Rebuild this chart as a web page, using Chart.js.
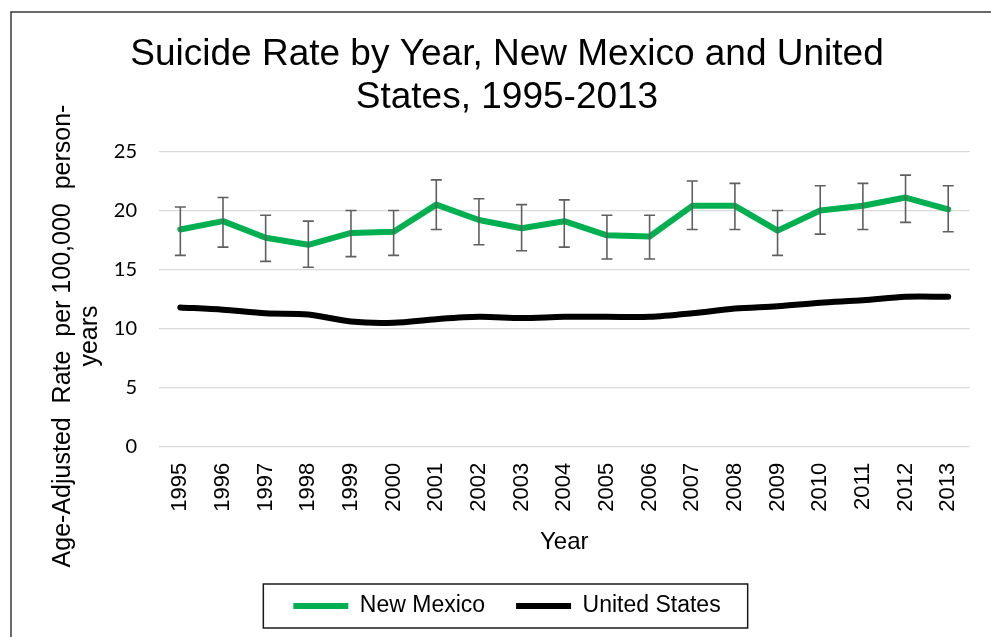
<!DOCTYPE html>
<html>
<head>
<meta charset="utf-8">
<script src="https://cdn.jsdelivr.net/npm/chart.js@4.4.1/dist/chart.umd.min.js"></script>
<style>
  html, body { margin: 0; padding: 0; background: #fff; }
  #wrap { width: 991px; height: 637px; }
</style>
</head>
<body>
<div id="wrap"><canvas id="chart" width="991" height="637"></canvas></div>
<script>
const years = ["1995", "1996", "1997", "1998", "1999", "2000", "2001", "2002", "2003", "2004",
  "2005", "2006", "2007", "2008", "2009", "2010", "2011", "2012", "2013"];
const nmRate = [18.4, 19.1, 17.7, 17.1, 18.1, 18.2, 20.5, 19.2, 18.5, 19.1, 17.9, 17.8, 20.4, 20.4, 18.3, 20.0, 20.4, 21.1, 20.1];
const nmLow = [16.2, 16.9, 15.7, 15.2, 16.1, 16.2, 18.4, 17.1, 16.6, 16.9, 15.9, 15.9, 18.4, 18.4, 16.2, 18.0, 18.4, 19.0, 18.2];
const nmHigh = [20.3, 21.1, 19.6, 19.1, 20.0, 20.0, 22.6, 21.0, 20.5, 20.9, 19.6, 19.6, 22.5, 22.3, 20.0, 22.1, 22.3, 23.0, 22.1];
const usRate = [11.8, 11.6, 11.3, 11.2, 10.6, 10.5, 10.8, 11.0, 10.9, 11.0, 11.0, 11.0, 11.3, 11.7, 11.9, 12.2, 12.4, 12.7, 12.7];
const yTicks = [0, 5, 10, 15, 20, 25];
const yTitleLines = ["Age-Adjusted  Rate  per 100,000  person-", "years"];

// outer frame of the chart object (only top and left edges are in view)
const framePlugin = {
  id: "frame",
  beforeDraw(chart) {
    const ctx = chart.ctx;
    ctx.save();
    ctx.fillStyle = "#fff";
    ctx.fillRect(0, 0, chart.width, chart.height);
    ctx.strokeStyle = "#3a3a3a";
    ctx.lineWidth = 1.5;
    ctx.strokeRect(11, 12, 1100, 800);
    ctx.restore();
  }
};

// 95% CI bars on the New Mexico series
const errorBars = {
  id: "errorBars",
  afterDatasetsDraw(chart) {
    const ctx = chart.ctx;
    const x = chart.scales.x;
    const y = chart.scales.y;
    ctx.save();
    ctx.strokeStyle = "#5f5f5f";
    ctx.lineWidth = 1.6;
    nmLow.forEach((lo, i) => {
      const px = x.getPixelForValue(i);
      const top = y.getPixelForValue(nmHigh[i]);
      const bot = y.getPixelForValue(lo);
      ctx.beginPath();
      ctx.moveTo(px, top);
      ctx.lineTo(px, bot);
      ctx.moveTo(px - 5.5, top);
      ctx.lineTo(px + 5.5, top);
      ctx.moveTo(px - 5.5, bot);
      ctx.lineTo(px + 5.5, bot);
      ctx.stroke();
    });
    ctx.restore();
  }
};

// y title is centred on the whole chart in Excel, so it is drawn by hand
const yTitle = {
  id: "yTitle",
  afterDraw(chart) {
    const ctx = chart.ctx;
    ctx.save();
    ctx.fillStyle = "#000";
    ctx.font = "25px 'Liberation Sans', Arial, sans-serif";
    ctx.textAlign = "center";
    ctx.textBaseline = "middle";
    ctx.translate(0, 336);
    ctx.rotate(-Math.PI / 2);
    ctx.fillText(yTitleLines[0], 0, 63);
    ctx.fillText(yTitleLines[1], 0, 90);
    ctx.restore();
  }
};

// box round the legend
const legendBox = {
  id: "legendBox",
  afterDraw(chart) {
    const boxes = chart.legend.legendHitBoxes;
    if (!boxes || !boxes.length) return;
    const left = Math.min(...boxes.map(b => b.left)) - 30;
    const right = Math.max(...boxes.map(b => b.left + b.width)) + 27;
    const mid = boxes[0].top + boxes[0].height / 2;
    const ctx = chart.ctx;
    ctx.save();
    ctx.strokeStyle = "#1a1a1a";
    ctx.lineWidth = 1.5;
    ctx.strokeRect(left, mid - 22, right - left, 44);
    ctx.restore();
  }
};

new Chart(document.getElementById("chart"), {
  type: "line",
  plugins: [framePlugin, errorBars, yTitle, legendBox],
  data: {
    labels: years,
    datasets: [
      {
        label: "New Mexico",
        data: nmRate,
        borderColor: "#00b050",
        backgroundColor: "#00b050",
        borderWidth: 6,
        borderCapStyle: "round",
        borderJoinStyle: "round",
        pointRadius: 0,
        tension: 0
      },
      {
        label: "United States",
        data: usRate,
        borderColor: "#000000",
        backgroundColor: "#000000",
        borderWidth: 6,
        borderCapStyle: "round",
        borderJoinStyle: "round",
        pointRadius: 0,
        tension: 0.3
      }
    ]
  },
  options: {
    responsive: false,
    animation: false,
    layout: { padding: { left: 38, right: 15, top: 0, bottom: 9.5 } },
    plugins: {
      tooltip: { enabled: false },
      title: {
        display: true,
        text: ["Suicide Rate by Year, New Mexico and United", "States, 1995-2013"],
        color: "#000",
        font: { family: "'Liberation Sans', Arial, sans-serif", size: 37, weight: "normal", lineHeight: 1.162 },
        padding: { top: 33, bottom: 32.5 }
      },
      legend: {
        position: "bottom",
        labels: {
          usePointStyle: true,
          pointStyle: "line",
          pointStyleWidth: 55,
          boxWidth: 55,
          padding: 31,
          color: "#000",
          font: { family: "'Liberation Sans', Arial, sans-serif", size: 23 }
        }
      }
    },
    scales: {
      x: {
        offset: true,
        grid: { display: false, drawTicks: false },
        border: { display: false },
        ticks: {
          color: "#000",
          maxRotation: 90,
          minRotation: 90,
          padding: 16,
          autoSkip: false,
          font: { family: "'Liberation Sans', Arial, sans-serif", size: 22 }
        },
        title: {
          display: true,
          text: "Year",
          color: "#000",
          font: { family: "'Liberation Sans', Arial, sans-serif", size: 24, lineHeight: 1.2 },
          padding: { top: 0, bottom: 7 }
        }
      },
      y: {
        min: 0,
        max: 25,
        afterFit(scale) { scale.width = 121; },
        afterBuildTicks(scale) { scale.ticks = yTicks.map(v => ({ value: v })); },
        grid: { color: "#d9d9d9", lineWidth: 1.3, drawTicks: false },
        border: { display: false },
        ticks: {
          color: "#000",
          padding: 22,
          font: { family: "Lato, 'Open Sans', sans-serif", size: 20 }
        }
      }
    }
  }
});
</script>
</body>
</html>
